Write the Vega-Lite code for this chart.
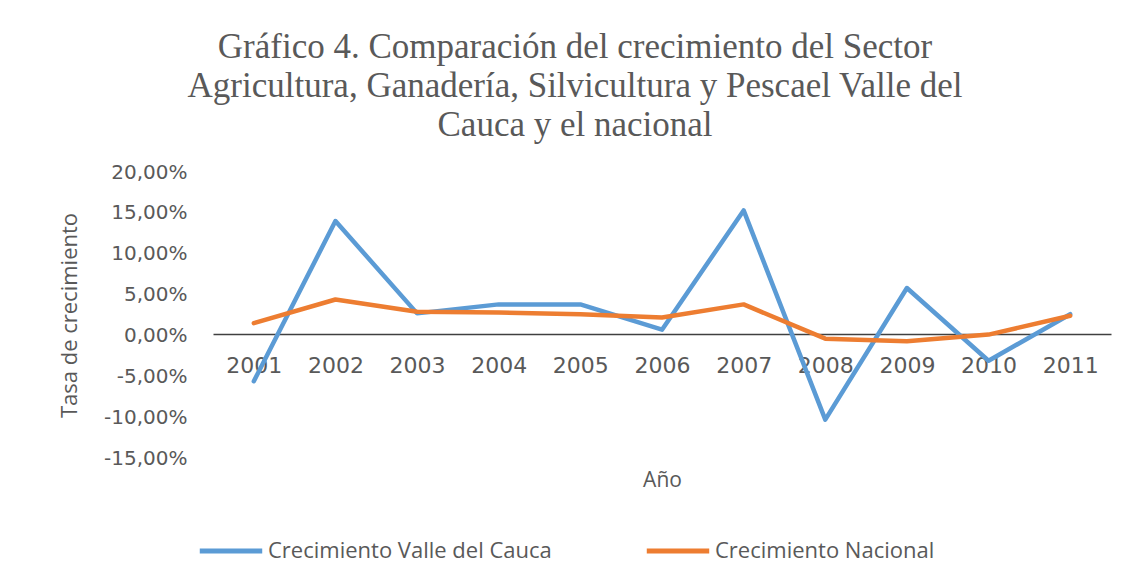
{
  "$schema": "https://vega.github.io/schema/vega-lite/v6.json",
  "autosize": {"type": "none"},
  "width": 898,
  "height": 286,
  "padding": {"left": 213, "top": 172, "right": 19, "bottom": 123},
  "background": "white",
  "title": {
    "text": ["Gráfico 4. Comparación del crecimiento del Sector", "Agricultura, Ganadería, Silvicultura y Pescael Valle del", "Cauca y el nacional"],
    "font": "Liberation Serif",
    "fontSize": 35,
    "fontWeight": "normal",
    "color": "#595959",
    "lineHeight": 39,
    "anchor": "middle",
    "dx": -87,
    "offset": 19
  },
  "data": {
    "values": [
      {"year": "2001", "serie": "Crecimiento Valle del Cauca", "value": -0.056},
      {"year": "2002", "serie": "Crecimiento Valle del Cauca", "value": 0.140},
      {"year": "2003", "serie": "Crecimiento Valle del Cauca", "value": 0.027},
      {"year": "2004", "serie": "Crecimiento Valle del Cauca", "value": 0.038},
      {"year": "2005", "serie": "Crecimiento Valle del Cauca", "value": 0.038},
      {"year": "2006", "serie": "Crecimiento Valle del Cauca", "value": 0.007},
      {"year": "2007", "serie": "Crecimiento Valle del Cauca", "value": 0.153},
      {"year": "2008", "serie": "Crecimiento Valle del Cauca", "value": -0.103},
      {"year": "2009", "serie": "Crecimiento Valle del Cauca", "value": 0.058},
      {"year": "2010", "serie": "Crecimiento Valle del Cauca", "value": -0.031},
      {"year": "2011", "serie": "Crecimiento Valle del Cauca", "value": 0.026},
      {"year": "2001", "serie": "Crecimiento Nacional", "value": 0.015},
      {"year": "2002", "serie": "Crecimiento Nacional", "value": 0.044},
      {"year": "2003", "serie": "Crecimiento Nacional", "value": 0.029},
      {"year": "2004", "serie": "Crecimiento Nacional", "value": 0.028},
      {"year": "2005", "serie": "Crecimiento Nacional", "value": 0.026},
      {"year": "2006", "serie": "Crecimiento Nacional", "value": 0.022},
      {"year": "2007", "serie": "Crecimiento Nacional", "value": 0.038},
      {"year": "2008", "serie": "Crecimiento Nacional", "value": -0.004},
      {"year": "2009", "serie": "Crecimiento Nacional", "value": -0.007},
      {"year": "2010", "serie": "Crecimiento Nacional", "value": 0.001},
      {"year": "2011", "serie": "Crecimiento Nacional", "value": 0.024}
    ]
  },
  "mark": {"type": "line", "strokeWidth": 4.5, "strokeJoin": "round", "strokeCap": "round"},
  "encoding": {
    "x": {
      "field": "year",
      "type": "ordinal",
      "scale": {"type": "point", "padding": 0.5},
      "axis": {
        "title": "Año",
        "offset": -124,
        "domain": true,
        "domainColor": "#404040",
        "domainWidth": 1.3,
        "ticks": false,
        "grid": false,
        "labelAngle": 0,
        "labelFont": "DejaVu Sans",
        "labelFontSize": 22,
        "labelColor": "#595959",
        "labelPadding": 21,
        "titleFont": "Open Sans",
        "titleFontSize": 21,
        "titleFontWeight": "normal",
        "titleColor": "#595959",
        "titlePadding": 93
      }
    },
    "y": {
      "field": "value",
      "type": "quantitative",
      "scale": {"domain": [-0.15, 0.2], "nice": false, "zero": false},
      "axis": {
        "title": "Tasa de crecimiento",
        "values": [-0.15, -0.1, -0.05, 0, 0.05, 0.1, 0.15, 0.2],
        "labelExpr": "replace(replace(format(datum.value, '.2%'), '.', ','), '−', '-')",
        "domain": false,
        "ticks": false,
        "grid": false,
        "labelFont": "DejaVu Sans",
        "labelFontSize": 20,
        "labelColor": "#595959",
        "labelPadding": 26,
        "titleFont": "Open Sans",
        "titleFontSize": 22,
        "titleFontWeight": "normal",
        "titleColor": "#595959",
        "titlePadding": 22
      }
    },
    "color": {
      "field": "serie",
      "type": "nominal",
      "sort": ["Crecimiento Valle del Cauca", "Crecimiento Nacional"],
      "scale": {"domain": ["Crecimiento Valle del Cauca", "Crecimiento Nacional"], "range": ["#5B9BD5", "#ED7D31"]},
      "legend": {
        "title": null,
        "orient": "none",
        "direction": "horizontal",
        "legendX": -16,
        "legendY": 345,
        "symbolType": "stroke",
        "symbolStrokeWidth": 5,
        "symbolSize": 3900,
        "labelFont": "Open Sans",
        "labelFontSize": 22,
        "labelLimit": 0,
        "labelColor": "#595959",
        "labelOffset": 3,
        "columnPadding": 84
      }
    }
  },
  "config": {"view": {"stroke": null}}
}
